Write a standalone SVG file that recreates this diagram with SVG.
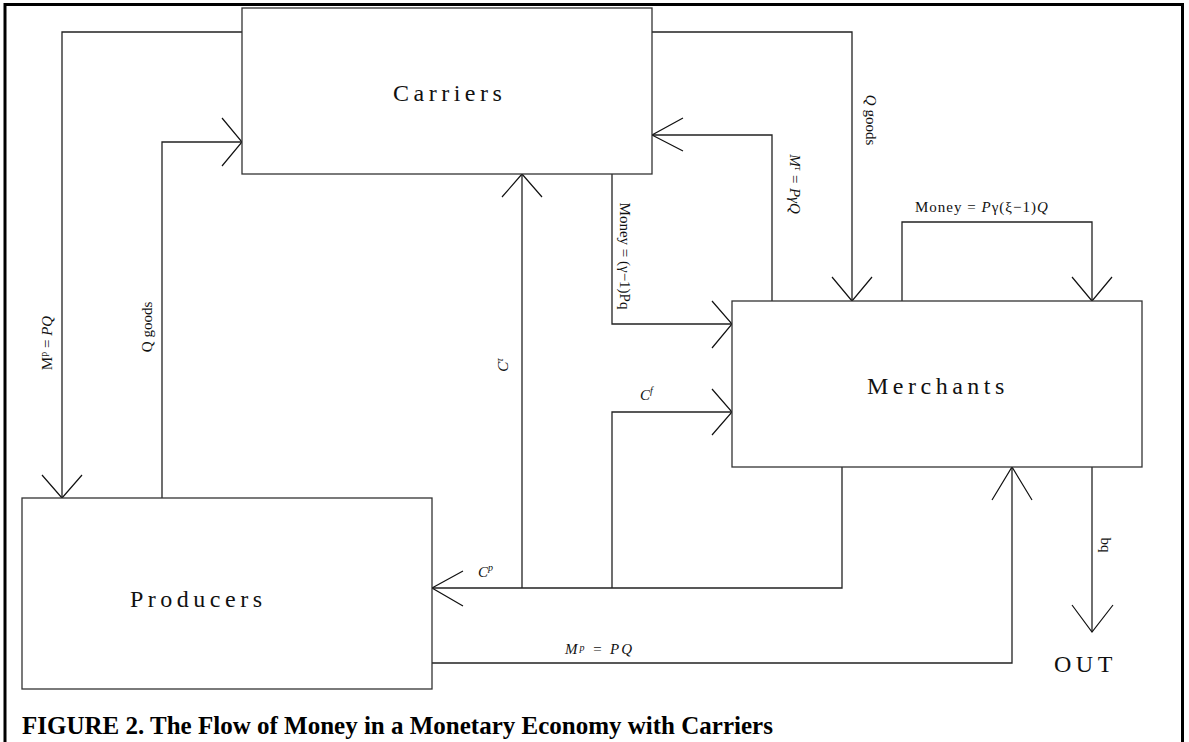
<svg xmlns="http://www.w3.org/2000/svg" width="1189" height="742" viewBox="0 0 1189 742">
<style>
.box{fill:#fff;stroke:#333;stroke-width:1.3}
.ln{fill:none;stroke:#222;stroke-width:1.3}
.ah{fill:none;stroke:#111;stroke-width:1.2}
.nl{font-family:"Liberation Serif","Times New Roman",serif;font-size:24px;letter-spacing:4.5px;fill:#111}
.lb{font-family:"Liberation Serif","Times New Roman",serif;font-size:15px;fill:#111}
.it{font-style:italic}
.cap{font-family:"Liberation Serif","Times New Roman",serif;font-size:25px;font-weight:bold;fill:#000}
</style>
<rect x="5" y="4.5" width="1177.5" height="760" fill="none" stroke="#000" stroke-width="3"/>
<g id="connectors">
<polyline class="ln" points="242,32 62,32 62,498"/><polyline class="ah" points="42,475 62,498 82,475"/>
<polyline class="ln" points="162,498 162,142 242,142"/><polyline class="ah" points="222,118 242,142 222,166"/>
<polyline class="ln" points="652,32 852,32 852,301"/><polyline class="ah" points="832,277 852,301 872,277"/>
<polyline class="ln" points="772,301 772,135 652,135"/><polyline class="ah" points="683,118 652,135 683,151"/>
<polyline class="ln" points="612,174 612,324 732,324"/><polyline class="ah" points="712,301 732,324 712,348"/>
<polyline class="ln" points="522,588 522,174"/><polyline class="ah" points="502,197 522,174 542,197"/>
<polyline class="ln" points="612,588 612,412 732,412"/><polyline class="ah" points="712,389 732,412 712,435"/>
<polyline class="ln" points="842,467 842,588 432,588"/><polyline class="ah" points="463,571 432,588 463,606"/>
<polyline class="ln" points="432,663 1012,663 1012,467"/><polyline class="ah" points="992,500 1012,467 1032,500"/>
<polyline class="ln" points="902,301 902,222 1092,222 1092,301"/><polyline class="ah" points="1072,277 1092,301 1112,277"/>
<polyline class="ln" points="1092,467 1092,632"/><polyline class="ah" points="1072,605 1092,632 1113,605"/>
<text class="lb" transform="translate(52,343) rotate(-90)" text-anchor="middle">M<tspan font-size="10" dy="-5">p</tspan><tspan dy="5"> = </tspan><tspan class="it">PQ</tspan></text>
<text class="lb" transform="translate(152,327) rotate(-90)" text-anchor="middle">Q goods</text>
<text class="lb" transform="translate(866,120) rotate(90)" text-anchor="middle"><tspan class="it">Q</tspan> goods</text>
<text class="lb" transform="translate(790,184) rotate(90)" text-anchor="middle"><tspan class="it">M<tspan font-size="10" dy="-5">τ</tspan><tspan dy="5"> = </tspan>PγQ</tspan></text>
<text class="lb" transform="translate(620,256) rotate(90)" text-anchor="middle">Money = (γ−1)Pq</text>
<text class="lb it" transform="translate(508,365) rotate(-90)" text-anchor="middle">C<tspan font-size="10" dy="-5">τ</tspan></text>
<text class="lb it" x="640" y="400">C<tspan font-size="10" dy="-6">f</tspan></text>
<text class="lb it" x="478" y="577" font-size="14">C<tspan font-size="10" dy="-6">p</tspan></text>
<text class="lb it" x="565" y="654" font-size="14" letter-spacing="2">M<tspan font-size="10" dy="-3">p</tspan><tspan dy="3"> = PQ</tspan></text>
<text class="lb" x="915" y="212" letter-spacing="1">Money = <tspan class="it">P</tspan>γ(ξ−1)<tspan class="it">Q</tspan></text>
<text class="lb" transform="translate(1101,545) rotate(90)" text-anchor="middle">bq</text>
</g>
<g id="carriers"><rect class="box" x="242" y="8" width="410" height="166"/><text class="nl" x="393" y="101">Carriers</text></g>
<g id="merchants"><rect class="box" x="732" y="301" width="410" height="166"/><text class="nl" x="867" y="394">Merchants</text></g>
<g id="producers"><rect class="box" x="22" y="498" width="410" height="191"/><text class="nl" x="130" y="607">Producers</text></g>
<g id="out"><text class="nl" x="1054" y="672" letter-spacing="7">OUT</text></g>
<text class="cap" x="22" y="734">FIGURE 2. The Flow of Money in a Monetary Economy with Carriers</text>
</svg>
